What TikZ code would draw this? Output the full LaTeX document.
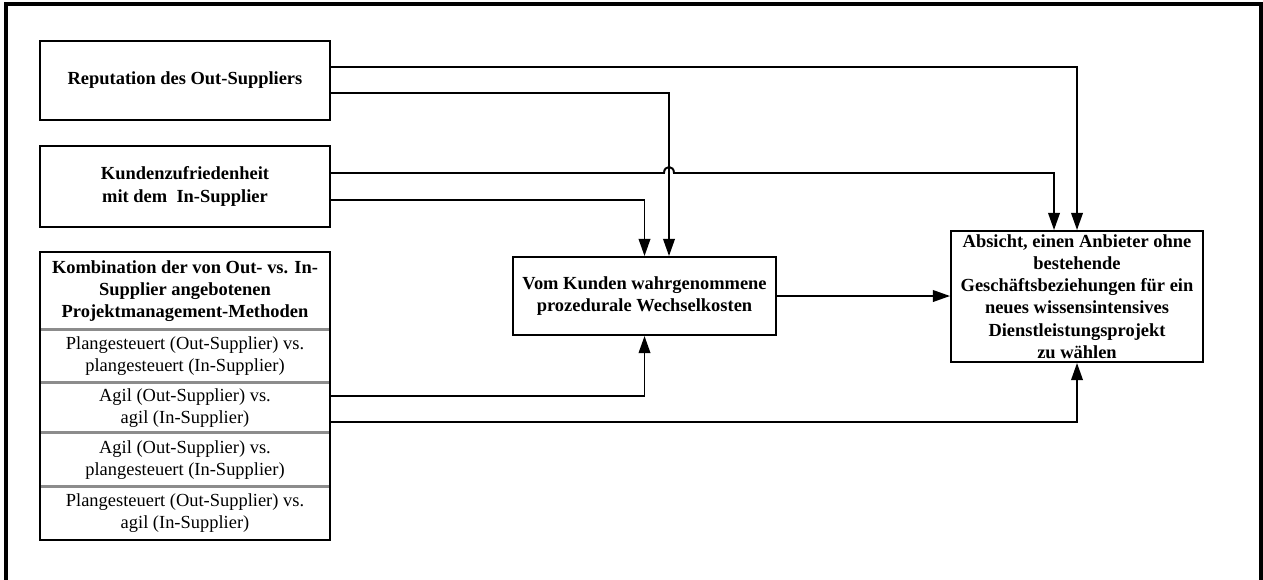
\documentclass[tikz,border=0pt]{standalone}
\usepackage{fontspec}
\setmainfont{Liberation Serif}
\usetikzlibrary{arrows.meta}
\tikzset{
  kasten/.style={draw, line width=1.1pt, align=center, inner sep=0pt,
    font=\bfseries\fontsize{10.5}{12.6}\selectfont},
  zeile/.style={align=center, inner sep=0pt, minimum width=5.8cm,
    font=\fontsize{10.5}{12.6}\selectfont},
  trenner/.style={draw=gray!90, line width=1.6pt},
  linie/.style={line width=1.1pt},
  pfeil/.style={line width=1.1pt, -{Triangle[width=6.6pt,length=9.8pt]}},
}

\begin{document}
\begin{tikzpicture}[x=0.02cm, y=-0.02cm]
  \useasboundingbox (0,0) rectangle (1263,579);
  % Rahmen
  \draw[line width=1.8pt] (6,600) -- (6,4) -- (1261,4) -- (1261,600);

  % linke Spalte
  \node[kasten, minimum width=5.8cm, minimum height=1.58cm] (rep) at (185,80.5)
    {Reputation des Out-Suppliers};
  \node[kasten, minimum width=5.8cm, minimum height=1.62cm] (zuf) at (185,186.5)
    {Kundenzufriedenheit\\mit dem\ \ In-Supplier};

  \node[zeile, minimum height=1.56cm, font=\bfseries\fontsize{10.5}{12.6}\selectfont] (kopf) at (185,291)
    {Kombination der von Out- vs. In-\\Supplier angebotenen\\Projektmanagement-Methoden};
  \node[zeile, minimum height=1.06cm] (z1) at (185,356.5)
    {Plangesteuert (Out-Supplier) vs.\\plangesteuert (In-Supplier)};
  \node[zeile, minimum height=1.0cm] (z2) at (185,408)
    {Agil (Out-Supplier) vs.\\agil (In-Supplier)};
  \node[zeile, minimum height=1.08cm] (z3) at (185,460)
    {Agil (Out-Supplier) vs.\\plangesteuert (In-Supplier)};
  \node[zeile, minimum height=1.06cm] (z4) at (185,513.5)
    {Plangesteuert (Out-Supplier) vs.\\agil (In-Supplier)};
  \draw[trenner] (z1.north west) -- (z1.north east);
  \draw[trenner] (z2.north west) -- (z2.north east);
  \draw[trenner] (z3.north west) -- (z3.north east);
  \draw[trenner] (z4.north west) -- (z4.north east);
  \draw[linie] (kopf.north west) rectangle (z4.south east);

  % Mitte und rechts
  \node[kasten, minimum width=5.26cm, minimum height=1.56cm] (kosten) at (644.5,296)
    {Vom Kunden wahrgenommene\\prozedurale Wechselkosten};
  \node[kasten, minimum width=5.04cm, minimum height=2.62cm] (absicht) at (1077,296.5)
    {Absicht, einen Anbieter ohne\\bestehende\\Gesch\"aftsbeziehungen f\"ur ein\\neues wissensintensives\\Dienstleistungsprojekt\\zu w\"ahlen};

  % Verbindungen
  \draw[pfeil] (rep.east |- 0,67) -| (absicht.north);
  \draw[pfeil] (rep.east |- 0,93) -| ([xshift=0.49cm]kosten.north);
  \draw[pfeil] (zuf.east |- 0,173) -- (664,173) .. controls (664,165) and (674,165) .. (674,173)
    -| ([xshift=-0.46cm]absicht.north);
  \draw[pfeil] (zuf.east |- 0,200) -| (kosten.north);
  \draw[pfeil] (kosten.east) -- (kosten.east -| absicht.west);
  \draw[pfeil] (z2.east |- 0,396) -| (kosten.south);
  \draw[pfeil] (z2.east |- 0,422) -| (absicht.south);
\end{tikzpicture}
\end{document}
